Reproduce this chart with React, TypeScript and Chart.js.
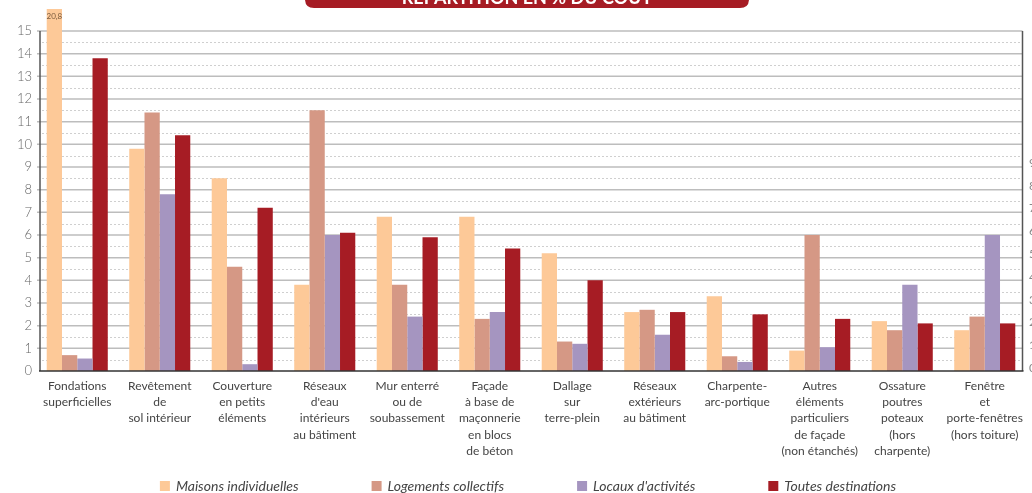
import React, { useEffect, useRef } from "react";
import { Chart, registerables } from "chart.js";

Chart.register(...registerables);

const categories: string[][] = [
  ["Fondations", "superficielles"],
  ["Revêtement", "de", "sol intérieur"],
  ["Couverture", "en petits", "éléments"],
  ["Réseaux", "d'eau", "intérieurs", "au bâtiment"],
  ["Mur enterré", "ou de", "soubassement"],
  ["Façade", "à base de", "maçonnerie", "en blocs", "de béton"],
  ["Dallage", "sur", "terre-plein"],
  ["Réseaux", "extérieurs", "au bâtiment"],
  ["Charpente-", "arc-portique"],
  ["Autres", "éléments", "particuliers", "de façade", "(non étanchés)"],
  ["Ossature", "poutres", "poteaux", "(hors", "charpente)"],
  ["Fenêtre", "et", "porte-fenêtres", "(hors toiture)"],
];

const maisons = [20.8, 9.8, 8.5, 3.8, 6.8, 6.8, 5.2, 2.6, 3.3, 0.9, 2.2, 1.8];
const logements = [0.7, 11.4, 4.6, 11.5, 3.8, 2.3, 1.3, 2.7, 0.65, 6.0, 1.8, 2.4];
const locaux = [0.55, 7.8, 0.3, 6.0, 2.4, 2.6, 1.2, 1.6, 0.4, 1.05, 3.8, 6.0];
const toutes = [13.8, 10.4, 7.2, 6.1, 5.9, 5.4, 4.0, 2.6, 2.5, 2.3, 2.1, 2.1];

const seriesNames = [
  "Maisons individuelles",
  "Logements collectifs",
  "Locaux d'activités",
  "Toutes destinations",
];
const seriesColors = ["#FDC998", "#D59885", "#A595C0", "#A61C24"];

const yTicks = [0, 1, 2, 3, 4, 5, 6, 7, 8, 9, 10, 11, 12, 13, 14, 15];
const neighbourTicks = ["9", "8", "7", "6", "5", "4", "3", "2", "1", "0"];
const title = "RÉPARTITION EN % DU COÛT";
const overflowLabel = "20,8";

const FONT = "Lato, 'Open Sans', sans-serif";
const OVERFLOW_PX = 22;
const FRAME_LEFT = 40;
const FRAME_RIGHT = 1022.5;

const decorPlugin = {
  id: "decor",
  beforeDatasetsDraw(chart: any) {
    const { ctx } = chart;
    const y = chart.scales.y;
    ctx.save();
    ctx.strokeStyle = "#bdbdbd";
    ctx.lineWidth = 1.5;
    yTicks.forEach((v) => {
      if (v === 0) return;
      const py = y.getPixelForValue(v);
      ctx.beginPath();
      ctx.moveTo(FRAME_LEFT - 3, py);
      ctx.lineTo(FRAME_RIGHT, py);
      ctx.stroke();
    });
    ctx.strokeStyle = "#cfcfcf";
    ctx.lineWidth = 1;
    ctx.setLineDash([2, 2]);
    for (let i = 0; i < yTicks.length - 1; i++) {
      const v = (yTicks[i] + yTicks[i + 1]) / 2;
      const py = Math.round(y.getPixelForValue(v)) + 0.5;
      ctx.beginPath();
      ctx.moveTo(FRAME_LEFT + 2, py);
      ctx.lineTo(FRAME_RIGHT, py);
      ctx.stroke();
    }
    ctx.restore();
  },
  afterDatasetsDraw(chart: any) {
    const { ctx, chartArea } = chart;
    const y = chart.scales.y;
    ctx.save();
    const top = y.getPixelForValue(yTicks[yTicks.length - 1]);
    const bottom = y.getPixelForValue(0);
    ctx.strokeStyle = "#555";
    ctx.lineWidth = 1.5;
    ctx.beginPath();
    ctx.moveTo(FRAME_LEFT, top);
    ctx.lineTo(FRAME_LEFT, bottom);
    ctx.moveTo(FRAME_RIGHT, top);
    ctx.lineTo(FRAME_RIGHT, bottom);
    ctx.stroke();
    ctx.strokeStyle = "#333";
    ctx.beginPath();
    ctx.moveTo(FRAME_LEFT - 1, bottom);
    ctx.lineTo(FRAME_RIGHT + 1, bottom);
    ctx.stroke();
    const meta = chart.getDatasetMeta(0);
    const el = meta.data[0];
    if (el) {
      ctx.fillStyle = "#7a5a3c";
      ctx.font = `8px ${FONT}`;
      ctx.textAlign = "center";
      ctx.textBaseline = "middle";
      ctx.fillText(overflowLabel, el.x, chartArea.top - OVERFLOW_PX + 7);
    }
    ctx.restore();
  },
  afterDraw(chart: any) {
    const { ctx, width } = chart;
    const y = chart.scales.y;
    ctx.save();
    const bx = 305, bw = 444, by = -20, bh = 28, r = 9;
    ctx.fillStyle = "#A61C24";
    ctx.beginPath();
    ctx.moveTo(bx + r, by);
    ctx.lineTo(bx + bw - r, by);
    ctx.quadraticCurveTo(bx + bw, by, bx + bw, by + r);
    ctx.lineTo(bx + bw, by + bh - r);
    ctx.quadraticCurveTo(bx + bw, by + bh, bx + bw - r, by + bh);
    ctx.lineTo(bx + r, by + bh);
    ctx.quadraticCurveTo(bx, by + bh, bx, by + bh - r);
    ctx.lineTo(bx, by + r);
    ctx.quadraticCurveTo(bx, by, bx + r, by);
    ctx.fill();
    ctx.fillStyle = "#ffffff";
    ctx.font = `bold 18px ${FONT}`;
    ctx.textAlign = "center";
    ctx.textBaseline = "alphabetic";
    ctx.fillText(title, bx + bw / 2, 4);

    ctx.fillStyle = "#888";
    ctx.font = `12px ${FONT}`;
    ctx.textAlign = "left";
    ctx.textBaseline = "middle";
    const bottom = y.getPixelForValue(0);
    const step = (bottom - 3 - 163) / (neighbourTicks.length - 1);
    neighbourTicks.forEach((t, i) => {
      ctx.fillText(t, width - 3, 163 + i * step);
    });

    ctx.font = `italic 14px ${FONT}`;
    const gap = 73;
    const box = 10;
    const widths = seriesNames.map((n) => box + 6 + ctx.measureText(n).width);
    const total = widths.reduce((a, b) => a + b, 0) + gap * (widths.length - 1);
    let x = 528 - total / 2;
    const ly = 486;
    seriesNames.forEach((n, i) => {
      ctx.fillStyle = seriesColors[i];
      ctx.fillRect(x, ly - box / 2, box, box);
      ctx.fillStyle = "#444";
      ctx.textAlign = "left";
      ctx.textBaseline = "middle";
      ctx.fillText(n, x + box + 6, ly);
      x += widths[i] + gap;
    });
    ctx.restore();
  },
};

export default function App() {
  const ref = useRef<HTMLCanvasElement>(null);

  useEffect(() => {
    document.body.style.margin = "0";
    if (!ref.current) return;
    const series = [maisons, logements, locaux, toutes];
    const chart = new Chart(ref.current, {
      type: "bar",
      data: {
        labels: categories,
        datasets: series.map((d, i) => ({
          label: seriesNames[i],
          data: d,
          backgroundColor: seriesColors[i],
          borderWidth: 0,
          categoryPercentage: 0.74,
          barPercentage: 1,
          clip: { left: 0, top: OVERFLOW_PX, right: 0, bottom: 0 } as any,
        })),
      },
      options: {
        animation: false,
        responsive: false,
        maintainAspectRatio: false,
        layout: { padding: { top: 31, right: 6, left: 0, bottom: 0 } },
        plugins: {
          legend: { display: false },
          tooltip: { enabled: false },
        },
        scales: {
          x: {
            grid: { display: false, drawTicks: false },
            border: { display: false },
            ticks: {
              color: "#444",
              font: { family: FONT, size: 12, lineHeight: 1.35 },
              padding: 7,
              maxRotation: 0,
              autoSkip: false,
            },
            afterFit: (scale: any) => {
              scale.height = 122;
            },
          },
          y: {
            min: 0,
            max: 15,
            ticks: {
              stepSize: 1,
              color: "#666",
              font: { family: FONT, size: 13, weight: 300 as any },
              padding: 4,
            },
            grid: { display: false, drawTicks: false },
            border: { display: false },
            afterFit: (scale: any) => {
              scale.width = 36;
            },
          },
        },
      },
      plugins: [decorPlugin],
    });
    return () => chart.destroy();
  }, []);

  return (
    <div style={{ position: "absolute", left: 0, top: 0, width: 1032, height: 493 }}>
      <canvas ref={ref} width={1032} height={493} style={{ width: 1032, height: 493 }} />
    </div>
  );
}
